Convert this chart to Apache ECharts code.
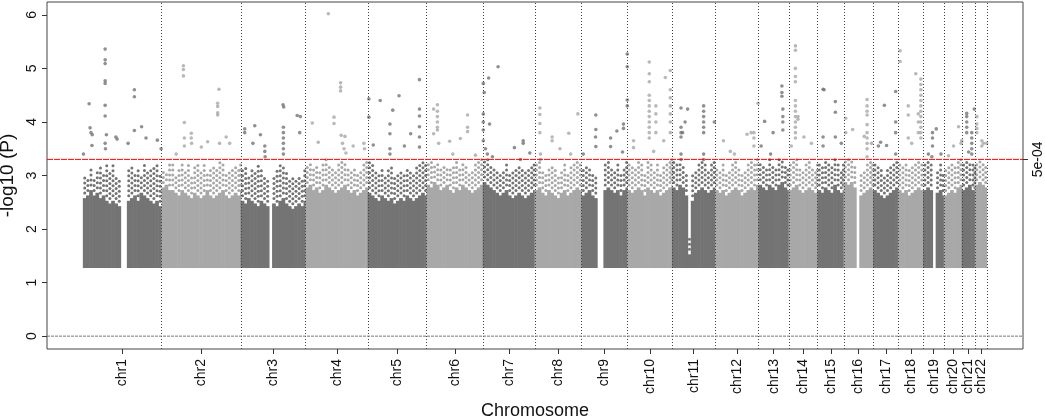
<!DOCTYPE html>
<html>
<head>
<meta charset="utf-8">
<script src="https://cdn.jsdelivr.net/npm/echarts@6/dist/echarts.min.js"></script>
<style>
  html, body { margin: 0; padding: 0; background: #fff; }
  #chart { width: 1045px; height: 416px; }
</style>
</head>
<body>
<div id="chart"></div>
<script>
// chromosome names and plotted span (Mb, first to last SNP)
const chromosomes = ['chr1','chr2','chr3','chr4','chr5','chr6','chr7','chr8','chr9','chr10','chr11',
  'chr12','chr13','chr14','chr15','chr16','chr17','chr18','chr19','chr20','chr21','chr22'];
const chrLengths = [250,252,206,198,187,179,165,149,146,142,137,138,96,92,83,94,79,80,66,57,42,37];

// dense band, one value per 10 Mb bin (null = gap with no SNPs)
const solidTops = [
  [2.55,2.6,2.7,2.6,2.65,2.55,2.6,2.5,2.45,2.5,2.45,2.4,null,null,2.5,2.55,2.6,2.5,2.65,2.6,2.55,2.5,2.45,2.5,2.4],
  [2.75,2.8,2.7,2.7,2.65,2.6,2.7,2.65,2.6,2.55,2.65,2.6,2.55,2.6,2.7,2.6,2.55,2.6,2.65,2.7,2.6,2.55,2.6,2.65,2.6,2.7],
  [2.5,2.45,2.55,2.5,2.45,2.4,2.5,2.45,2.4,null,2.45,2.4,2.5,2.55,2.45,2.4,2.35,2.4,2.45,2.4,2.5],
  [2.75,2.8,2.7,2.75,2.65,2.7,2.8,2.75,2.7,2.65,2.7,2.75,2.8,2.7,2.65,2.7,2.6,2.65,2.7,2.75],
  [2.65,2.6,2.55,2.5,2.6,2.55,2.5,2.55,2.45,2.5,2.55,2.5,2.6,2.55,2.5,2.55,2.6,2.65,2.6],
  [2.8,2.75,2.85,2.8,2.7,2.75,2.8,2.7,2.65,2.75,2.7,2.8,2.75,2.7,2.65,2.7,2.75,2.8],
  [2.85,2.8,2.75,2.7,2.65,2.6,2.65,2.7,2.6,2.55,2.6,2.65,2.6,2.55,2.6,2.65,2.7],
  [2.7,2.75,2.65,2.6,2.7,2.65,2.6,2.55,2.65,2.7,2.6,2.65,2.7,2.75,2.7],
  [2.6,2.65,2.7,2.6,2.55,null,null,2.7,2.75,2.7,2.65,2.7,2.6,2.7,2.75],
  [2.7,2.65,2.7,2.75,2.7,2.6,2.75,2.7,2.65,2.7,2.6,2.65,2.7,2.75,2.8],
  [2.75,2.7,2.8,2.75,2.6,1.5,2.5,2.65,2.7,2.75,2.7,2.65,2.7,2.75],
  [2.7,2.65,2.7,2.6,2.65,2.7,2.75,2.7,2.6,2.65,2.7,2.75,2.7,2.8],
  [2.8,2.75,2.7,2.8,2.75,2.7,2.8,2.85,2.75,2.7],
  [2.7,2.75,2.8,2.7,2.65,2.7,2.75,2.7,2.65,2.7],
  [2.7,2.65,2.75,2.7,2.65,2.8,2.7,2.65,2.7],
  [2.85,2.8,2.85,2.75,null,2.6,2.65,2.7,2.75,2.7],
  [2.7,2.65,2.6,2.55,2.6,2.65,2.7,2.75],
  [2.7,2.65,2.7,2.6,2.65,2.7,2.75,2.7],
  [2.7,2.75,2.7,null,2.65,2.7,2.6],
  [2.6,2.65,2.7,2.65,2.75,2.8],
  [2.7,2.75,2.8,2.7,2.65],
  [2.8,2.85,2.8,2.75]
];
// tallest of the thin dotted spikes above the band, same bins
const spikeTops = [
  [3.0,2.95,3.1,2.9,3.05,3.15,3.0,3.2,3.1,3.25,3.0,2.95,null,null,3.1,3.2,3.05,3.1,3.0,3.2,3.05,3.1,3.15,3.2,3.0],
  [3.1,3.05,3.2,3.25,3.0,3.15,3.25,3.1,3.2,3.0,3.15,3.25,3.1,3.2,3.05,3.15,3.2,3.1,3.25,3.2,3.0,3.1,3.15,3.2,3.1,3.25],
  [3.1,3.2,3.0,3.15,3.05,3.2,3.1,3.0,2.9,null,3.0,3.1,3.25,3.2,3.05,2.95,3.0,2.9,3.0,2.95,3.1],
  [3.2,3.25,3.1,3.2,3.05,3.25,3.3,3.2,3.15,3.1,3.25,3.3,3.2,3.15,3.05,3.1,3.0,3.1,3.2,3.25],
  [3.25,3.2,3.1,3.05,3.15,3.0,3.1,3.2,3.0,3.05,3.1,3.0,3.15,3.1,3.05,3.2,3.25,3.3,3.2],
  [3.25,3.3,3.2,3.25,3.1,3.2,3.15,3.1,3.2,3.25,3.1,3.2,3.15,3.05,3.1,3.2,3.25,3.3],
  [3.3,3.3,3.2,3.15,3.1,3.05,3.1,3.2,3.0,3.05,3.1,3.2,3.15,3.05,3.1,3.2,3.25],
  [3.2,3.25,3.1,3.05,3.15,3.2,3.1,3.0,3.1,3.2,3.05,3.15,3.2,3.25,3.2],
  [3.1,3.2,3.15,3.05,3.0,null,null,3.2,3.25,3.15,3.1,3.2,3.05,3.15,3.3],
  [3.2,3.15,3.1,3.25,3.2,3.05,3.3,3.2,3.1,3.2,3.05,3.15,3.25,3.3,3.3],
  [3.3,3.2,3.25,3.2,3.05,1.8,3.0,3.1,3.2,3.3,3.25,3.1,3.2,3.3],
  [3.15,3.1,3.2,3.05,3.1,3.2,3.25,3.15,3.05,3.1,3.2,3.25,3.2,3.3],
  [3.25,3.2,3.15,3.3,3.2,3.15,3.3,3.3,3.2,3.15],
  [3.2,3.3,3.3,3.15,3.1,3.2,3.25,3.15,3.1,3.2],
  [3.2,3.15,3.25,3.2,3.15,3.3,3.2,3.1,3.2],
  [3.25,3.3,3.25,3.2,null,3.05,3.1,3.2,3.3,3.2],
  [3.2,3.15,3.1,3.0,3.1,3.15,3.2,3.3],
  [3.2,3.15,3.2,3.1,3.15,3.25,3.3,3.2],
  [3.2,3.3,3.2,null,3.1,3.2,3.05],
  [3.1,3.15,3.2,3.15,3.25,3.3],
  [3.2,3.3,3.25,3.2,3.15],
  [3.25,3.3,3.2,3.2]
];
// sparse SNPs above the band: [chromosome, position in Mb, -log10 P]
const peaks = [
  [1,1,3.40],[1,19,4.34],[1,22,3.89],[1,25,3.80],[1,29,3.76],[1,28,3.56],[1,70,5.36],[1,70,5.16],[1,70,5.09],
  [1,70,4.77],[1,70,4.72],[1,70,4.31],[1,70,4.11],[1,74,3.76],[1,70,3.6],[1,71,3.5],[1,104,3.72],[1,108,3.68],
  [1,163,4.60],[1,163,4.47],[1,163,3.84],[1,186,3.91],[1,200,3.70],[1,143,3.6],[1,236,3.66],[1,248,3.5],
  [2,69,5.05],[2,69,4.98],[2,69,4.86],[2,72,3.99],[2,72,3.7],[2,72,3.55],[2,94,3.79],[2,94,3.7],[2,95,3.6],
  [2,182,4.61],[2,178,4.35],[2,178,4.29],[2,178,4.17],[2,178,4.13],[2,146,3.63],[2,205,3.72],[2,216,3.6],
  [2,184,3.6],[2,126,3.53],[2,46,3.4],
  [3,12,3.87],[3,12,3.8],[3,44,3.93],[3,62,3.76],[3,76,3.55],[3,76,3.45],[3,77,3.35],[3,134,4.32],[3,136,4.28],
  [3,135,3.9],[3,135,3.8],[3,135,3.7],[3,135,3.6],[3,135,3.5],[3,135,3.4],[3,179,4.12],[3,189,4.10],[3,187,3.8],[3,38,3.6],
  [4,72,6.02],[4,21,3.98],[4,111,4.73],[4,111,4.65],[4,111,4.58],[4,90,4.09],[4,90,3.97],[4,113,3.75],[4,117,3.6],
  [4,122,3.5],[4,128,3.42],[4,40,3.62],[4,151,3.55],[4,125,3.73],[4,185,3.6],[4,187,3.5],
  [5,3,4.43],[5,3,4.09],[5,39,4.40],[5,99,4.49],[5,79,4.22],[5,70,3.96],[5,70,3.78],[5,70,3.5],[5,70,3.4],
  [5,116,3.55],[5,136,3.78],[5,164,4.79],[5,164,4.24],[5,164,4.11],[5,164,3.91],[5,164,3.72],[5,164,3.53],[5,17,3.57],
  [6,22,4.24],[6,34,4.32],[6,34,4.2],[6,34,4.1],[6,34,4.0],[6,34,3.9],[6,34,3.85],[6,22,3.78],[6,38,3.6],
  [6,73,3.64],[6,107,3.69],[6,130,4.13],[6,130,3.9],[6,130,3.82],[6,83,3.4],[6,155,3.38],
  [7,1,4.72],[7,4,4.55],[7,18,4.82],[7,48,5.03],[7,1,4.15],[7,1,4.0],[7,1,3.85],[7,1,3.65],[7,21,3.96],[7,8,3.5],
  [7,14,3.4],[7,30,3.35],[7,100,3.52],[7,128,3.65],[7,128,3.6],[7,149,3.42],[7,119,3.3],
  [8,16,4.26],[8,16,4.14],[8,16,3.97],[8,16,3.8],[8,55,3.72],[8,55,3.65],[8,80,3.5],[8,108,3.79],[8,137,4.15],
  [8,18,3.4],[8,18,3.3],[8,114,3.4],
  [9,45,4.13],[9,45,3.86],[9,44,3.72],[9,45,3.54],[9,5,3.4],[9,92,3.7],[9,92,3.54],[9,112,3.83],[9,133,3.96],
  [9,133,3.88],[9,130,3.44],[9,145,5.27],[9,145,5.03],[9,145,4.41],[9,145,4.30],
  [10,69,5.12],[10,69,4.9],[10,69,4.75],[10,69,4.5],[10,69,4.4],[10,69,4.3],[10,69,4.2],[10,69,4.1],[10,69,4.0],
  [10,69,3.9],[10,69,3.8],[10,69,3.7],[10,90,4.3],[10,90,4.15],[10,90,4.0],[10,90,3.8],[10,120,4.83],[10,136,4.96],
  [10,136,4.6],[10,136,4.45],[10,136,4.3],[10,136,4.15],[10,136,4.0],[10,136,3.8],[10,19,3.65],[10,19,3.52],
  [10,83,3.45],[10,115,3.65],
  [11,28,4.26],[11,28,3.9],[11,28,3.8],[11,28,3.72],[11,28,3.4],[11,28,3.3],[11,41,4.0],[11,49,4.24],[11,100,4.3],
  [11,100,4.2],[11,100,4.1],[11,100,4.0],[11,100,3.9],[11,100,3.8],[11,100,3.4],[11,100,3.3],[11,134,4.0],[11,33,3.8],
  [12,26,3.65],[12,48,3.45],[12,61,3.4],[12,101,3.77],[12,114,3.8],[12,136,4.35],[12,123,3.8],[12,123,3.7],[12,123,3.55],
  [13,19,4.01],[13,46,3.8],[13,74,4.67],[13,74,4.55],[13,74,4.48],[13,77,4.24],[13,77,4.1],[13,77,4.0],[13,77,3.85],
  [13,38,3.4],[13,8,3.55],
  [14,21,5.42],[14,21,5.34],[14,21,5.0],[14,21,4.85],[14,21,4.75],[14,21,4.4],[14,21,4.3],[14,21,4.2],[14,21,4.1],
  [14,21,4.0],[14,21,3.9],[14,21,3.8],[14,21,3.7],[14,29,4.1],[14,29,4.05],[14,48,3.72],[14,8,3.55],[14,72,3.6],
  [15,17,4.61],[15,20,4.6],[15,17,3.72],[15,17,3.55],[15,56,4.38],[15,56,4.18],[15,56,3.72],[15,75,3.6],
  [16,6,4.07],[16,6,3.8],[16,28,3.86],[16,65,3.73],[16,74,4.42],[16,74,4.3],[16,74,4.2],[16,74,4.13],[16,74,3.95],
  [16,74,3.8],[16,74,3.7],[16,74,3.6],[16,74,3.5],[16,74,3.35],[16,88,3.6],
  [17,35,4.31],[17,23,3.62],[17,16,3.55],[17,42,3.56],[17,71,4.57],[17,71,4.0],[17,71,3.8],[17,71,3.4],
  [18,6,5.33],[18,6,5.13],[18,32,4.3],[18,32,4.13],[18,32,3.7],[18,56,4.9],[18,72,4.8],[18,72,4.7],[18,72,4.6],
  [18,72,4.5],[18,72,4.4],[18,72,4.3],[18,72,4.2],[18,72,4.1],[18,72,4.0],[18,72,3.9],[18,72,3.8],[18,72,3.7],
  [18,64,4.15],[18,64,4.0],[18,64,3.8],[18,43,3.6],
  [19,29,3.8],[19,29,3.7],[19,29,3.55],[19,41,3.87],[19,16,3.4],[19,56,3.4],[19,27,3.35],
  [20,14,3.37],[20,30,3.55],[20,46,3.91],[20,54,3.6],[20,56,3.65],
  [21,15,4.16],[21,15,4.1],[21,15,4.0],[21,15,3.9],[21,15,3.8],[21,31,3.8],[21,31,3.7],[21,31,3.6],[21,31,3.5],
  [21,31,3.4],[21,21,3.44],[21,39,4.24],
  [22,5,4.1],[22,5,3.96],[22,5,3.88],[22,5,3.8],[22,21,3.65],[22,21,3.55],[22,26,3.6],[22,36,3.6]
];
const yTicks = [0, 1, 2, 3, 4, 5, 6];
const threshold = 3.30103;          // -log10(5e-04)
const thresholdLabel = '5e-04';
const pFloor = 1.3;                 // only SNPs with P < 0.05 were plotted
const BIN = 10;

const DARK = '#747474', LIGHT = '#a8a8a8';
const FONT = "'Liberation Sans', Arial, Helvetica, sans-serif";
const colorOf = i => (i % 2 === 0 ? DARK : LIGHT);

const chrStarts = [];
let acc = 0;
chrLengths.forEach(l => { chrStarts.push(acc); acc += l; });
const genomeEnd = acc;
const chrEnds = chrStarts.map((s, i) => s + chrLengths[i]);
const chrMids = chrStarts.map((s, i) => s + chrLengths[i] / 2);
const xMin = -genomeEnd * 0.04, xMax = genomeEnd * 1.04;

const bandData = [];
solidTops.forEach((arr, c) => arr.forEach((top, i) => {
  if (top == null) return;
  const x0 = chrStarts[c] + i * BIN;
  const x1 = Math.min(x0 + BIN, chrEnds[c]);
  bandData.push([x0, x1, top, spikeTops[c][i], c]);
}));

const peakData = peaks.map(([c, pos, v]) => ({
  value: [chrStarts[c - 1] + pos, v],
  itemStyle: { color: colorOf(c - 1) }
}));

const chart = echarts.init(document.getElementById('chart'));
const R = 1.5;    // dot radius in px
const STEP = 5;   // spacing of dots along a spike

const hLine = (y, color, type) => ({
  type: 'line', z: 5, silent: true, symbol: 'none', animation: false,
  data: [[xMin, y], [xMax, y]],
  itemStyle: { color },
  lineStyle: { color, type, width: 1 }
});

// odd and even chromosome labels on two overlaid axes so crowded ones are all kept
const chrAxis = (mids, show) => ({
  type: 'value', min: xMin, max: xMax, position: 'bottom',
  axisLine: { show: false, onZero: false }, splitLine: { show: false },
  axisTick: { show: true, length: 5, customValues: mids, lineStyle: { color: '#333' } },
  axisLabel: {
    customValues: mids, rotate: 90, margin: 10, fontSize: 14, color: '#111', fontFamily: FONT,
    hideOverlap: false,
    formatter: v => chromosomes[chrMids.findIndex(m => Math.abs(m - v) < 1e-6)] || ''
  },
  name: show ? 'Chromosome' : '', nameLocation: 'middle', nameGap: 42,
  nameTextStyle: { fontSize: 18, color: '#111', fontFamily: FONT }
});

chart.setOption({
  animation: false,
  grid: { left: 47, right: 22, top: 2, bottom: 67, outerBoundsMode: 'none', containLabel: false,
    show: true, borderColor: '#444', borderWidth: 1, backgroundColor: 'transparent' },
  xAxis: [
    chrAxis(chrMids.filter((m, i) => i % 2 === 0), true),
    chrAxis(chrMids.filter((m, i) => i % 2 === 1), false)
  ],
  yAxis: [{
    type: 'value', min: -0.24, max: 6.24, position: 'left',
    axisLine: { show: false, onZero: false }, splitLine: { show: false },
    axisTick: { show: true, length: 5, customValues: yTicks, lineStyle: { color: '#333' } },
    axisLabel: { customValues: yTicks, rotate: 90, margin: 8, fontSize: 14, color: '#111', fontFamily: FONT },
    name: '-log10 (P)', nameLocation: 'middle', nameGap: 24, nameRotate: 90,
    nameTextStyle: { fontSize: 19, color: '#111', fontFamily: FONT }
  }, {
    type: 'value', min: -0.24, max: 6.24, position: 'right',
    axisLine: { show: false, onZero: false }, splitLine: { show: false },
    axisTick: { show: true, length: 5, customValues: [threshold], lineStyle: { color: '#333' } },
    axisLabel: { customValues: [threshold], rotate: 90, margin: 8, fontSize: 14, color: '#111', fontFamily: FONT,
      formatter: () => thresholdLabel }
  }],
  series: [{
    type: 'custom', z: 2, silent: true, clip: true,
    data: bandData,
    renderItem: (params, api) => {
      const x0 = api.value(0), x1 = api.value(1), top = api.value(2), spike = api.value(3);
      const color = colorOf(api.value(4));
      const a = api.coord([x0, top]);
      const b = api.coord([x1, pFloor]);
      const s = api.coord([(x0 + x1) / 2, spike]);
      const children = [
        { type: 'rect', shape: { x: a[0] - 0.3, y: a[1] - R, width: b[0] - a[0] + 0.6, height: b[1] - a[1] + 2 * R }, style: { fill: color } }
      ];
      for (let y = a[1] - R - STEP; y >= s[1] - 1; y -= STEP) {
        children.push({ type: 'circle', shape: { cx: s[0], cy: y, r: R }, style: { fill: color } });
      }
      return { type: 'group', children };
    }
  }, {
    type: 'scatter', z: 3, silent: true,
    symbol: 'circle', symbolSize: 3.6,
    data: peakData,
    markLine: {
      silent: true, symbol: 'none', label: { show: false },
      lineStyle: { color: '#444', type: [1, 2], width: 1 },
      data: chrEnds.map(x => ({ xAxis: x }))
    }
  },
  hLine(0, '#777777', [3, 1]),
  hLine(threshold, '#ff0000', [6, 1])
  ]
});
</script>
</body>
</html>
